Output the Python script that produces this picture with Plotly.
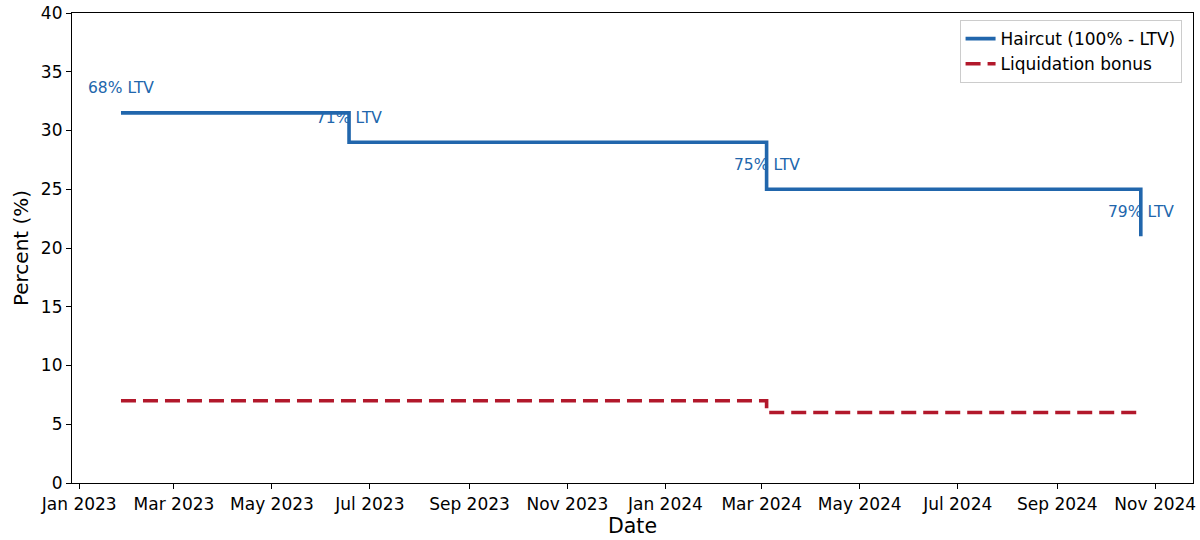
import plotly.graph_objects as go

dates = ["2023-01-27", "2023-06-18", "2024-03-04", "2024-10-23"]
haircut = [31.5, 29, 25, 21]
bonus = [7, 7, 6, 6]
ltv_labels = ["68% LTV", "71% LTV", "75% LTV", "79% LTV"]

blue = "#2166ac"
red = "#b2182b"
font = "DejaVu Sans"

fig = go.Figure()
fig.add_trace(go.Scatter(x=dates, y=haircut, mode="lines", line_shape="hv",
                         line=dict(color=blue, width=3.6), name="Haircut (100% - LTV)"))
fig.add_trace(go.Scatter(x=dates, y=bonus, mode="lines", line_shape="hv",
                         line=dict(color=red, width=3.6, dash="15px,7px"), name="Liquidation bonus"))
for d, v, t in zip(dates, haircut, ltv_labels):
    fig.add_annotation(x=d, y=v + 2.1, text=t, showarrow=False,
                       font=dict(family=font, size=15.5, color=blue),
                       xanchor="center", yanchor="middle")

axis_common = dict(showline=True, linecolor="black", linewidth=1.2, mirror=True,
                   ticks="outside", ticklen=5, tickcolor="black", showgrid=False,
                   zeroline=False, automargin=False,
                   tickfont=dict(family=font, size=17, color="black"))
fig.update_xaxes(**axis_common, type="date",
                 range=["2022-12-27 12:00", "2024-11-24 12:00"],
                 tickvals=["2023-01-01", "2023-03-01", "2023-05-01", "2023-07-01", "2023-09-01",
                           "2023-11-01", "2024-01-01", "2024-03-01", "2024-05-01", "2024-07-01",
                           "2024-09-01", "2024-11-01"],
                 tickformat="%b %Y",
                 title=dict(text="Date", font=dict(family=font, size=20.5, color="black"), standoff=6))
fig.update_yaxes(**axis_common, range=[0, 40], tickvals=list(range(0, 41, 5)),
                 title=dict(text="Percent (%)", font=dict(family=font, size=20, color="black"), standoff=6))

fig.update_layout(
    width=1200, height=540,
    margin=dict(l=72, r=7, t=13, b=57),
    plot_bgcolor="white", paper_bgcolor="white",
    legend=dict(x=0.9898, y=0.985, xanchor="right", yanchor="top",
                bordercolor="#cccccc", borderwidth=1, bgcolor="rgba(255,255,255,0.8)",
                font=dict(family=font, size=17, color="black"), itemwidth=30,
                tracegroupgap=0),
    showlegend=True,
)
fig.write_html("out.html")
